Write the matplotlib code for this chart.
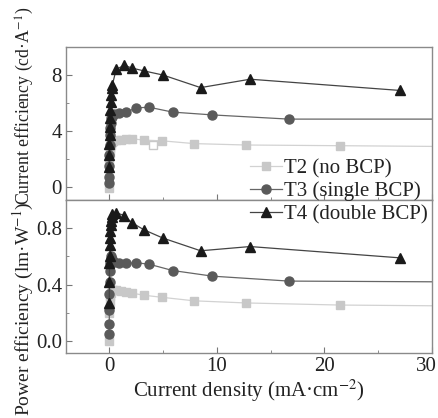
# Current / power efficiency vs current density, T2-T4 devices
import matplotlib.pyplot as plt
from matplotlib.ticker import MultipleLocator
from matplotlib.transforms import ScaledTranslation

plt.rcParams["font.family"] = ["Liberation Serif", "DejaVu Serif"]
plt.rcParams["mathtext.fontset"] = "stix"

# T2 (no BCP); last point is the line tail at the axis edge (no marker)
t2_j  = [0.005, 0.02, 0.05, 0.1, 0.15, 0.25, 0.4, 0.6, 1.1, 1.6, 2.1, 3.2, 4.9, 7.9, 12.7, 21.5, 30]
t2_ce = [-0.1, 1.8, 2.4, 2.8, 3.0, 3.2, 3.3, 3.35, 3.35, 3.4, 3.45, 3.35, 3.3, 3.1, 3.0, 2.95, 2.9]
t2_pe = [0.0, 0.2, 0.28, 0.32, 0.34, 0.36, 0.36, 0.36, 0.355, 0.35, 0.34, 0.325, 0.31, 0.285, 0.27, 0.255, 0.25]
# odd open square in the top panel
t2_open_j  = [4.1]
t2_open_ce = [3.0]

# T3 (single BCP); last point is the line tail
t3_j  = [0.005, 0.01, 0.02, 0.03, 0.05, 0.08, 0.1, 0.15, 0.2, 0.3, 0.45, 0.9, 1.6, 2.5, 3.7, 5.9, 9.6, 16.7, 30]
t3_ce = [0.3, 0.7, 1.5, 2.3, 3.0, 3.7, 4.2, 4.6, 4.9, 5.0, 5.2, 5.3, 5.35, 5.65, 5.7, 5.35, 5.15, 4.85, 4.85]
t3_pe = [0.05, 0.12, 0.22, 0.33, 0.42, 0.5, 0.55, 0.58, 0.6, 0.58, 0.56, 0.55, 0.55, 0.555, 0.545, 0.5, 0.46, 0.425, 0.42]

# T4 (double BCP)
t4_j  = [0.01, 0.02, 0.03, 0.05, 0.07, 0.09, 0.12, 0.15, 0.2, 0.25, 0.3, 0.65, 1.4, 2.1, 3.2, 5.0, 8.5, 13.1, 27.0]
t4_ce = [1.4, 2.3, 3.1, 3.7, 4.3, 4.9, 5.5, 6.1, 6.6, 7.1, 7.3, 8.4, 8.7, 8.5, 8.3, 8.0, 7.1, 7.7, 6.9]
t4_pe = [0.27, 0.42, 0.55, 0.6, 0.68, 0.73, 0.78, 0.82, 0.85, 0.88, 0.9, 0.91, 0.89, 0.84, 0.79, 0.73, 0.64, 0.67, 0.59]

labels = ["T2 (no BCP)", "T3 (single BCP)", "T4 (double BCP)"]
x_ticks = [0, 10, 20, 30]

fig = plt.figure(figsize=(4.38, 4.18), dpi=100)
ax1 = fig.add_axes([0.151, 0.5215, 0.835, 0.366])
ax2 = fig.add_axes([0.151, 0.1555, 0.835, 0.366])

tail = slice(0, -1)
handles = []
for ax, y2, y3, y4 in [(ax1, t2_ce, t3_ce, t4_ce), (ax2, t2_pe, t3_pe, t4_pe)]:
    h2, = ax.plot(t2_j, y2, color="#d2d2d2", lw=0.9, marker="s", ms=5.5,
                  mfc="#c8c8c8", mec="#c8c8c8", markevery=tail)
    h3, = ax.plot(t3_j, y3, color="#666666", lw=0.9, marker="o", ms=6.5,
                  mfc="#5a5a5a", mec="#5a5a5a", markevery=tail)
    h4, = ax.plot(t4_j, y4, color="#444444", lw=0.9, marker="^", ms=7.5,
                  mfc="#1a1a1a", mec="#1a1a1a")
    handles = [h2, h3, h4]
ax1.plot(t2_open_j, t2_open_ce, ls="none", marker="s", ms=5.5, mfc="white", mec="#c8c8c8")

ax1.set_xlim(-4, 30)
ax2.set_xlim(-4, 30)
ax1.set_ylim(-0.93, 10)
ax2.set_ylim(-0.085, 1.0)
ax1.yaxis.set_major_locator(MultipleLocator(4))
ax1.yaxis.set_minor_locator(MultipleLocator(2))
ax2.yaxis.set_major_locator(MultipleLocator(0.4))
ax2.yaxis.set_minor_locator(MultipleLocator(0.2))
ax2.yaxis.set_major_formatter(lambda v, p: f"{v:.1f}")

for ax in (ax1, ax2):
    ax.set_xticks(x_ticks)
    ax.xaxis.set_minor_locator(MultipleLocator(5))
    ax.tick_params(which="both", direction="in", color="#777777", labelsize=15,
                   labelcolor="#222222", pad=3)
    ax.tick_params(which="major", length=4)
    ax.tick_params(which="minor", length=2.5)
    for s in ax.spines.values():
        s.set_color("#8a8a8a")
        s.set_linewidth(1.0)
ax1.tick_params(axis="x", labelbottom=False)

# last x label sits a little left of its tick, as in the original
last = ax2.xaxis.get_major_ticks()[-1].label1
last.set_transform(last.get_transform() + ScaledTranslation(-5 / 100, 0, fig.dpi_scale_trans))

ax2.set_xlabel("Current density (mA·cm$^{-2}$)", fontsize=15, color="#222222", labelpad=1)
fig.text(0.056, 0.746, "Current efficiency (cd·A$^{-1}$)", rotation=90,
         ha="center", va="center", fontsize=12.8, color="#222222")
fig.text(0.054, 0.262, "Power efficiency (lm·W$^{-1}$)", rotation=90,
         ha="center", va="center", fontsize=14, color="#222222")

fig.legend(handles, labels, loc="center left", bbox_to_anchor=(0.571, 0.542),
           frameon=False, fontsize=15, handlelength=1.55, handletextpad=0.1,
           labelspacing=0.16, borderpad=0, borderaxespad=0, numpoints=1,
           labelcolor="#222222")

plt.savefig("out.png", dpi=100)
